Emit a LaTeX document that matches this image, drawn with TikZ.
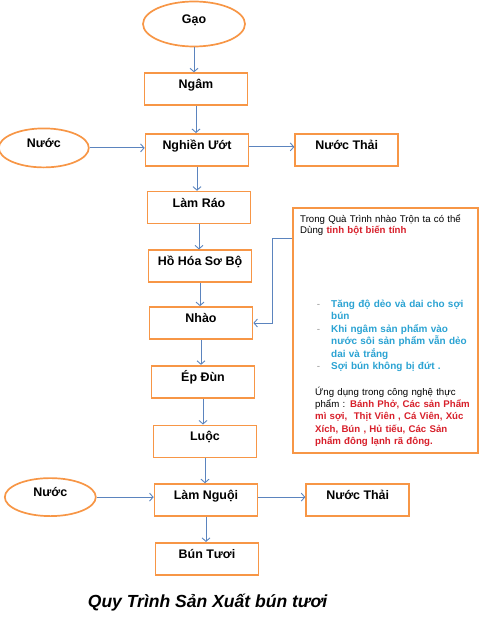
\documentclass[tikz,border=0pt]{standalone}
\usepackage{fontspec}
\setmainfont{Liberation Sans}
\usetikzlibrary{positioning, arrows.meta, shapes.geometric}
\definecolor{boxorange}{HTML}{F79646}
\definecolor{flowblue}{HTML}{5B84BE}
\definecolor{noteblue}{HTML}{2BA3D3}
\definecolor{notered}{HTML}{D8202B}
\definecolor{dashgrey}{HTML}{9A9A9A}
\newcommand{\dashmark}{\leavevmode\llap{\textcolor{dashgrey}{\mdseries -}\hspace{11bp}}}
\newcommand{\redbold}[1]{\textcolor{notered}{\bfseries #1}}

\begin{document}
\begin{tikzpicture}[x=1bp, y=-1bp, font=\fontsize{12.5}{14}\selectfont\bfseries, node distance=25bp]
    \tikzset{
      proc/.style={draw=boxorange, line width=1.7bp, minimum width=103bp, minimum height=32bp,
                   inner sep=0pt, text height=9bp, text depth=10bp},
      feed/.style={ellipse, draw=boxorange, line width=1.7bp, inner sep=0pt,
                   text height=9bp, text depth=10bp},
      note/.style={draw=boxorange, line width=1.7bp, minimum width=185bp, minimum height=245bp,
                   inner sep=0pt, fill=white},
      notetext/.style={anchor=base west, inner sep=0pt, align=left, text width=170bp},
      flow/.style={draw=flowblue, line width=0.9bp, -{Straight Barb[length=3.5bp, width=8bp]}}
    }
    \useasboundingbox (0,0) rectangle (486,640);

    % main line
    \node[feed, minimum width=102bp, minimum height=45bp] (gao) at (194,24) {Gạo};
    \node[proc, below=25bp of gao, xshift=2bp] (ngam) {Ngâm};
    \node[proc, below=27bp of ngam, xshift=1bp] (nghien) {Nghiền Ướt};
    \node[proc, below=24bp of nghien, xshift=2bp] (lamrao) {Làm Ráo};
    \node[proc, below=25bp of lamrao, xshift=1bp] (hohoa) {Hồ Hóa Sơ Bộ};
    \node[proc, below=23bp of hohoa, xshift=1bp] (nhao) {Nhào};
    \node[proc, below=25bp of nhao, xshift=2bp] (epdun) {Ép Đùn};
    \node[proc, below=26bp of epdun, xshift=2bp] (luoc) {Luộc};
    \node[proc, below=25bp of luoc, xshift=1bp] (lamnguoi) {Làm Nguội};
    \node[proc, below=25bp of lamnguoi, xshift=1bp] (buntuoi) {Bún Tươi};

    % inputs and outputs
    \node[feed, minimum width=90bp, minimum height=39bp, left=55bp of nghien, yshift=2bp] (nuoc1) {Nước};
    \node[proc, right=45bp of nghien] (thai1) {Nước Thải};
    \node[feed, minimum width=91bp, minimum height=38bp, left=57bp of lamnguoi, yshift=3bp] (nuoc2) {Nước};
    \node[proc, right=47bp of lamnguoi] (thai2) {Nước Thải};

    \foreach \a/\b in {gao/ngam, ngam/nghien, nghien/lamrao, lamrao/hohoa, hohoa/nhao,
                       nhao/epdun, epdun/luoc, luoc/lamnguoi, lamnguoi/buntuoi}
      \draw[flow] (\a.south) -- (\a.south |- \b.north);
    \draw[flow] (nuoc1.east) -- (nuoc1.east -| nghien.west);
    \draw[flow] ([yshift=3bp]nghien.east) -- ([yshift=3bp]thai1.west);
    \draw[flow] (nuoc2.east) -- (nuoc2.east -| lamnguoi.west);
    \draw[flow] ([yshift=3bp]lamnguoi.east) -- ([yshift=3bp]thai2.west);

    % note on modified starch
    \node[note, anchor=north west] (note) at (292,207) {};
    \node[notetext, font=\fontsize{9.7}{12}\selectfont] (intro) at (300,222)
      {Trong Quà Trình nhào Trộn ta có thể\\Dùng \redbold{tinh bột biến tính}};
    \node[notetext, font=\fontsize{10}{12.6}\selectfont\bfseries, text=noteblue] (benefit) at (331,307)
      {\dashmark Tăng độ dẻo và dai cho sợi\\bún\\\dashmark Khi ngâm sản phẩm vào\\nước sôi sản phẩm vẫn dẻo\\dai và trắng\\\dashmark Sợi bún không bị đứt .};
    \node[notetext, font=\fontsize{9.7}{12.5}\selectfont] (usage) at (315,395)
      {Ứng dụng trong công nghệ thực\\phẩm : \redbold{Bánh Phở, Các sản Phẩm}\\\redbold{mì sợi,\ \ Thịt Viên , Cá Viên, Xúc}\\\redbold{Xích, Bún , Hủ tiếu, Các Sản}\\\redbold{phẩm đông lạnh rã đông.}};
    \coordinate (bend) at (272,238);
    \draw[flow] (note.west |- bend) -- (bend) |- (nhao);

    \node[font=\fontsize{17.6}{20}\selectfont\bfseries\itshape] (title) at (207.5,603) {Quy Trình Sản Xuất bún tươi};
\end{tikzpicture}
\end{document}
